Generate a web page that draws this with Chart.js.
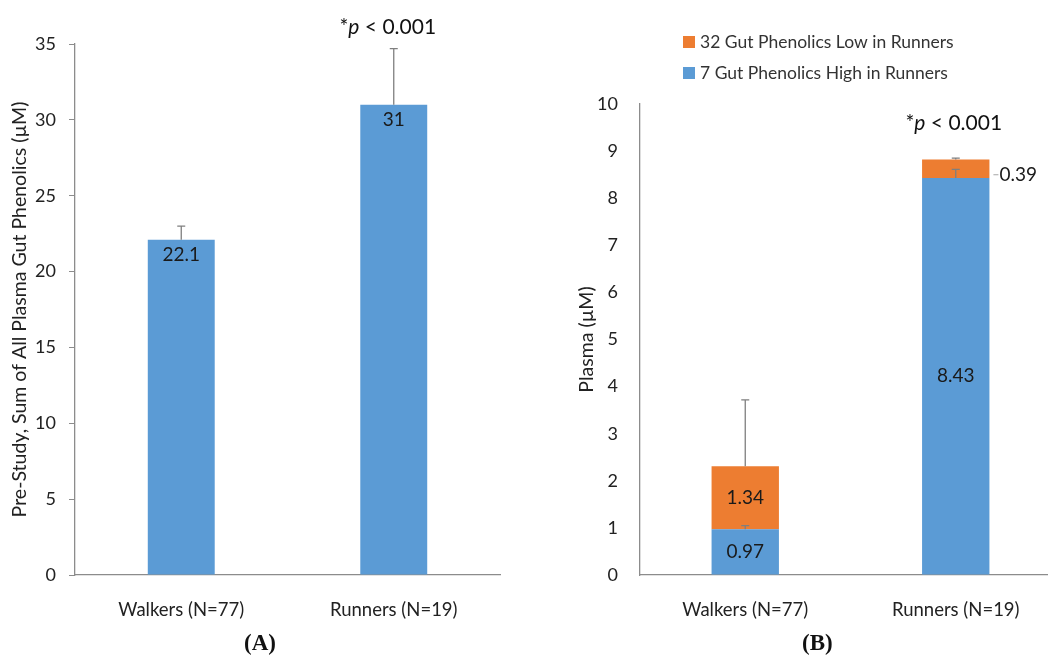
<!DOCTYPE html>
<html>
<head>
<meta charset="utf-8">
<script src="https://cdn.jsdelivr.net/npm/chart.js@4.4.0/dist/chart.umd.min.js"></script>
<style>
  html, body { margin: 0; padding: 0; background: #fff; width: 1048px; height: 660px; overflow: hidden; }
  #wrapA { position: absolute; left: 0; top: 0; width: 540px; height: 660px; }
  #wrapB { position: absolute; left: 540px; top: 0; width: 530px; height: 660px; }
  .panel { position: absolute; top: 630px; font-family: "Liberation Serif", "DejaVu Serif", serif; font-weight: bold; font-size: 23px; color: #111; }
</style>
</head>
<body>
<div id="wrapA"><canvas id="chartA" width="540" height="660"></canvas></div>
<div id="wrapB"><canvas id="chartB" width="530" height="660"></canvas></div>
<div class="panel" style="left:244px">(A)</div>
<div class="panel" style="left:802px">(B)</div>
<script>
// data
var groups = ['Walkers (N=77)', 'Runners (N=19)'];

var sumTotal = [22.1, 31];
var sumTotalErr = [0.9, 3.7];

var highLabel = '7 Gut Phenolics High in Runners';
var highValues = [0.97, 8.43];
var highErr = [0.08, 0.18];

var lowLabel = '32 Gut Phenolics Low in Runners';
var lowValues = [1.34, 0.39];
var lowErr = [1.41, 0.03];

var ticksA = [0, 5, 10, 15, 20, 25, 30, 35];
var ticksB = [0, 1, 2, 3, 4, 5, 6, 7, 8, 9, 10];

var BLUE = '#5b9bd5';
var ORANGE = '#ed7d31';
var FONT = 'Lato, "Open Sans", sans-serif';
var AXIS = '#8c8c8c';

// error bars (plus only), caps like Excel
var errorBars = {
    id: 'errorBars',
    afterDatasetsDraw: function(chart) {
        var ctx = chart.ctx;
        var y = chart.scales.y;
        ctx.save();
        ctx.strokeStyle = '#7f7f7f';
        ctx.lineWidth = 1.3;
        chart.data.datasets.forEach(function(ds, i) {
            if (!ds.errors) return;
            chart.getDatasetMeta(i).data.forEach(function(bar, j) {
                var topVal = y.getValueForPixel(bar.y);
                var yt = y.getPixelForValue(topVal + ds.errors[j]);
                ctx.beginPath();
                ctx.moveTo(bar.x, bar.y);
                ctx.lineTo(bar.x, yt);
                ctx.moveTo(bar.x - 4, yt);
                ctx.lineTo(bar.x + 4, yt);
                ctx.stroke();
            });
        });
        ctx.restore();
    }
};

// value labels
var valueLabels = {
    id: 'valueLabels',
    afterDraw: function(chart, args, opts) {
        var ctx = chart.ctx;
        ctx.save();
        ctx.font = '19px ' + FONT;
        ctx.fillStyle = '#1a1a1a';
        ctx.textBaseline = 'middle';
        chart.data.datasets.forEach(function(ds, i) {
            chart.getDatasetMeta(i).data.forEach(function(bar, j) {
                var txt = String(ds.data[j]);
                var mode = (ds.labelPos || [])[j] || 'center';
                if (mode === 'end') {
                    ctx.textAlign = 'center';
                    ctx.fillText(txt, bar.x, bar.y + 15);
                } else if (mode === 'right') {
                    var right = bar.x + bar.width / 2;
                    var yy = (bar.y + bar.base) / 2 + 6;
                    ctx.strokeStyle = '#a6a6a6';
                    ctx.lineWidth = 1;
                    ctx.beginPath();
                    ctx.moveTo(right + 4, yy);
                    ctx.lineTo(right + 9, yy);
                    ctx.stroke();
                    ctx.textAlign = 'left';
                    ctx.fillText(txt, right + 10, yy);
                } else {
                    ctx.textAlign = 'center';
                    ctx.fillText(txt, bar.x, (bar.y + bar.base) / 2);
                }
            });
        });
        ctx.restore();
    }
};

// "*p < 0.001" note
var sigNote = {
    id: 'sigNote',
    afterDraw: function(chart, args, opts) {
        var ctx = chart.ctx;
        var bar = chart.getDatasetMeta(0).data[opts.index];
        var yy = chart.scales.y.getPixelForValue(opts.value);
        var reg = '21px ' + FONT, ita = 'italic 21px ' + FONT;
        ctx.save();
        ctx.fillStyle = '#111';
        ctx.textBaseline = 'middle';
        ctx.textAlign = 'left';
        ctx.font = reg;
        var w1 = ctx.measureText('*').width, w3 = ctx.measureText(' < 0.001').width;
        ctx.font = ita;
        var w2 = ctx.measureText('p').width;
        var x = bar.x + (opts.dx || 0) - (w1 + w2 + w3) / 2;
        ctx.font = reg; ctx.fillText('*', x, yy);
        ctx.font = ita; ctx.fillText('p', x + w1, yy);
        ctx.font = reg; ctx.fillText(' < 0.001', x + w1 + w2, yy);
        ctx.restore();
    }
};

// legend drawn in the top margin, orange first
var topLegend = {
    id: 'topLegend',
    afterDraw: function(chart, args, opts) {
        var ctx = chart.ctx;
        var items = chart.data.datasets.slice().reverse();
        ctx.save();
        ctx.font = '17.5px ' + FONT;
        ctx.textBaseline = 'middle';
        ctx.textAlign = 'left';
        items.forEach(function(ds, k) {
            var yy = opts.y + k * 31;
            ctx.fillStyle = ds.backgroundColor;
            ctx.fillRect(opts.x, yy - 6, 12, 12);
            ctx.fillStyle = '#333';
            ctx.fillText(ds.label, opts.x + 17, yy);
        });
        ctx.restore();
    }
};

function xAxis() {
    return {
        grid: { display: false },
        border: { color: AXIS, width: 1.3 },
        ticks: { color: '#222', font: { family: FONT, size: 18.5 }, padding: 16 },
        afterFit: function(s) { s.height = 45; }
    };
}

new Chart(document.getElementById('chartA'), {
    type: 'bar',
    data: {
        labels: groups,
        datasets: [{
            label: 'Sum',
            data: sumTotal,
            errors: sumTotalErr,
            labelPos: ['end', 'end'],
            backgroundColor: BLUE,
            categoryPercentage: 1,
            barPercentage: 0.315
        }]
    },
    options: {
        responsive: false,
        animation: false,
        layout: { padding: { top: 44, right: 40, bottom: 40, left: 0 } },
        plugins: {
            legend: { display: false },
            tooltip: { enabled: false },
            sigNote: { index: 1, value: 36.1, dx: -6 }
        },
        scales: {
            x: xAxis(),
            y: {
                min: 0, max: 35,
                afterBuildTicks: function(s) { s.ticks = ticksA.map(function(v) { return { value: v }; }); },
                grid: { drawOnChartArea: false, tickLength: 6, color: AXIS },
                border: { color: AXIS, width: 1.3 },
                ticks: { color: '#222', font: { family: FONT, size: 18 }, padding: 13 },
                title: {
                    display: true,
                    text: 'Pre-Study, Sum of All Plasma Gut Phenolics (\u00b5M)',
                    color: '#222',
                    font: { family: FONT, size: 19.5 },
                    padding: { top: 8, bottom: 0 }
                },
                afterFit: function(s) { s.width = 75; }
            }
        }
    },
    plugins: [errorBars, valueLabels, sigNote]
});

new Chart(document.getElementById('chartB'), {
    type: 'bar',
    data: {
        labels: groups,
        datasets: [{
            label: highLabel,
            data: highValues,
            errors: highErr,
            backgroundColor: BLUE,
            categoryPercentage: 1,
            barPercentage: 0.32
        }, {
            label: lowLabel,
            data: lowValues,
            errors: lowErr,
            labelPos: ['center', 'right'],
            backgroundColor: ORANGE,
            categoryPercentage: 1,
            barPercentage: 0.32
        }]
    },
    options: {
        responsive: false,
        animation: false,
        layout: { padding: { top: 104, right: 9, bottom: 40, left: 0 } },
        plugins: {
            legend: { display: false },
            tooltip: { enabled: false },
            sigNote: { index: 1, value: 9.6, dx: -2 },
            topLegend: { x: 143, y: 42 }
        },
        scales: {
            x: Object.assign(xAxis(), { stacked: true }),
            y: {
                stacked: true,
                min: 0, max: 10,
                afterBuildTicks: function(s) { s.ticks = ticksB.map(function(v) { return { value: v }; }); },
                grid: { drawOnChartArea: false, drawTicks: false },
                border: { color: AXIS, width: 1.3 },
                ticks: { color: '#222', font: { family: FONT, size: 18 }, padding: 22 },
                title: {
                    display: true,
                    text: 'Plasma (\u00b5M)',
                    color: '#222',
                    font: { family: FONT, size: 19.5 },
                    padding: { top: 35, bottom: 0 }
                },
                afterFit: function(s) { s.width = 100; }
            }
        }
    },
    plugins: [errorBars, valueLabels, sigNote, topLegend]
});
</script>
</body>
</html>
